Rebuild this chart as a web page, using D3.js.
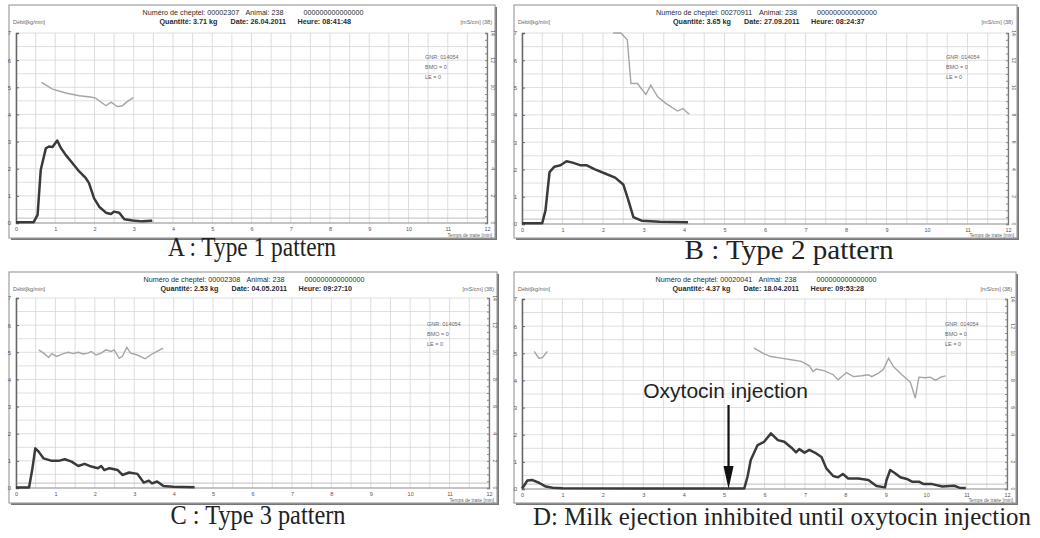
<!DOCTYPE html>
<html><head><meta charset="utf-8">
<script src="https://cdn.jsdelivr.net/npm/d3@7"></script>
<style>body{margin:0;background:#fff}</style>
</head><body><svg id="c" width="1040" height="538"></svg>
<script>
// ---------- DATA ----------
const captions = ["A : Type 1 pattern","B : Type 2 pattern","C : Type 3 pattern","D: Milk ejection inhibited until oxytocin injection"];
const herdNumbers = ["00002307","00270911","00002308","00020041"];
const quantities = ["3.71","3.65","2.53","4.37"];
const dates = ["26.04.2011","27.09.2011","04.05.2011","18.04.2011"];
const times = ["08:41:48","08:24:37","09:27:10","09:53:28"];
const xTicks = [0,1,2,3,4,5,6,7,8,9,10,11,12];
const yTicks = [0,1,2,3,4,5,6,7];
const rightTickLabels = ["0","2","4","6","8","10","12","14"];

// milk flow [min, kg/min]
const flowA = [[0,0.03],[0.45,0.03],[0.55,0.3],[0.63,1.95],[0.76,2.75],[0.84,2.82],[0.93,2.8],[1.05,3.04],[1.14,2.77],[1.27,2.5],[1.44,2.2],[1.61,1.9],[1.78,1.65],[1.86,1.47],[1.99,0.91],[2.12,0.6],[2.29,0.38],[2.42,0.33],[2.5,0.42],[2.63,0.38],[2.76,0.14],[2.97,0.09],[3.22,0.06],[3.44,0.08],[3.47,0.1]];
const flowB = [[0,0.03],[0.5,0.03],[0.58,0.5],[0.68,1.9],[0.8,2.1],[0.95,2.15],[1.1,2.3],[1.25,2.25],[1.45,2.15],[1.6,2.15],[1.8,2.0],[2.05,1.85],[2.3,1.7],[2.5,1.45],[2.62,0.9],[2.75,0.25],[2.95,0.12],[3.4,0.08],[4.1,0.06]];
const flowC = [[0,0.02],[0.33,0.02],[0.41,0.66],[0.49,1.46],[0.575,1.34],[0.7,1.09],[0.91,1.0],[1.08,1.0],[1.24,1.06],[1.41,0.97],[1.58,0.81],[1.74,0.89],[1.91,0.79],[2.08,0.73],[2.16,0.81],[2.24,0.66],[2.37,0.73],[2.58,0.66],[2.7,0.48],[2.87,0.57],[3.08,0.52],[3.24,0.2],[3.37,0.27],[3.45,0.17],[3.58,0.24],[3.74,0.07],[3.99,0.05],[4.24,0.04],[4.53,0.03]];
const flowD = [[0,0.02],[0.05,0.12],[0.13,0.31],[0.26,0.33],[0.42,0.23],[0.59,0.09],[0.76,0.05],[1.0,0.03],[3.0,0.02],[5.5,0.02],[5.58,0.45],[5.66,1.07],[5.83,1.62],[5.99,1.74],[6.16,2.05],[6.33,1.8],[6.49,1.74],[6.66,1.53],[6.78,1.35],[6.86,1.47],[6.99,1.34],[7.11,1.44],[7.28,1.31],[7.41,1.18],[7.53,0.76],[7.7,0.48],[7.82,0.43],[7.94,0.55],[8.07,0.39],[8.32,0.39],[8.57,0.33],[8.77,0.11],[8.98,0.06],[9.02,0.33],[9.11,0.7],[9.23,0.58],[9.36,0.43],[9.52,0.37],[9.65,0.27],[9.82,0.27],[9.94,0.18],[10.15,0.18],[10.4,0.09],[10.69,0.12],[10.82,0.05],[10.98,0.04]];

// conductivity trace, read in left-axis units
const condA = [[0.65,5.18],[0.93,4.93],[1.27,4.79],[1.61,4.69],[1.9,4.64],[2.03,4.6],[2.29,4.32],[2.42,4.45],[2.58,4.29],[2.71,4.32],[2.84,4.48],[2.99,4.62]];
const condB = [[2.25,7.0],[2.44,7.0],[2.6,6.75],[2.69,5.15],[2.85,5.15],[3.06,4.75],[3.18,5.09],[3.35,4.66],[3.55,4.42],[3.84,4.14],[3.97,4.23],[4.13,4.02]];
const condC = [[0.575,5.09],[0.7,4.97],[0.83,4.81],[0.91,4.95],[1.03,4.85],[1.2,4.95],[1.33,5.0],[1.45,4.95],[1.58,5.0],[1.7,4.94],[1.83,4.97],[1.91,5.03],[2.03,4.9],[2.16,4.97],[2.28,5.09],[2.41,5.03],[2.49,5.09],[2.62,4.78],[2.7,4.85],[2.81,5.18],[2.91,4.97],[3.08,4.9],[3.28,4.76],[3.41,4.9],[3.58,5.03],[3.73,5.15]];
const condD1 = [[0.3,5.07],[0.42,4.81],[0.51,4.85],[0.63,5.07]];
const condD2 = [[5.74,5.19],[5.99,4.98],[6.16,4.88],[6.41,4.82],[6.66,4.76],[6.91,4.7],[7.11,4.54],[7.2,4.33],[7.28,4.42],[7.49,4.35],[7.7,4.21],[7.82,4.02],[8.03,4.29],[8.2,4.14],[8.4,4.17],[8.57,4.21],[8.65,4.14],[8.82,4.27],[8.94,4.4],[9.07,4.82],[9.19,4.51],[9.4,4.21],[9.61,3.93],[9.73,3.35],[9.82,4.12],[9.98,4.1],[10.1,4.12],[10.23,4.0],[10.36,4.12],[10.48,4.17]];
const injectionTime = 5.11;

// ---------- LAYOUT ----------
const panels = [
  {box:[9,5,495,238], x0:16, x12:487, yZero:223, y7:33, flow:flowA, cond:[condA]},
  {box:[514,5,1017,238], x0:522, x12:1008, yZero:224, y7:33, flow:flowB, cond:[condB]},
  {box:[9,272,497,503], x0:16, x12:489, yZero:488, y7:298, flow:flowC, cond:[condC]},
  {box:[514,272,1016,503], x0:522, x12:1007, yZero:489, y7:299, flow:flowD, cond:[condD1,condD2]}
];
const captionPos = [[252,256],[789,259],[258,524],[782,525]];
const captionWidth = [168,209,175,498];
const captionSize = [27,27,27,25];

const svg = d3.select("#c");
const F = "'Liberation Sans', Arial, sans-serif";

panels.forEach((p,i)=>{
  const g = svg.append("g");
  const x = d3.scaleLinear().domain([0,12]).range([p.x0,p.x12]);
  const y = d3.scaleLinear().domain([0,7]).range([p.yZero,p.y7]);
  const [bx0,by0,bx1,by1] = p.box;
  // frame with shadow
  g.append("rect").attr("x",bx0+2).attr("y",by0+2).attr("width",bx1-bx0).attr("height",by1-by0).attr("fill","#777");
  g.append("rect").attr("x",bx0).attr("y",by0).attr("width",bx1-bx0).attr("height",by1-by0)
    .attr("fill","#fff").attr("stroke","#a0a0a0").attr("stroke-width",1.2);
  // grid
  const gx = d3.range(0,12.01,0.5), gy = d3.range(0,7.01,0.5);
  g.append("g").selectAll("line").data(gx).join("line")
    .attr("x1",d=>x(d)).attr("x2",d=>x(d)).attr("y1",y(0)).attr("y2",y(7))
    .attr("stroke","#d6d6d6").attr("stroke-width",0.8);
  g.append("g").selectAll("line").data(gy).join("line")
    .attr("x1",x(0)).attr("x2",x(12)).attr("y1",d=>y(d)).attr("y2",d=>y(d))
    .attr("stroke","#d6d6d6").attr("stroke-width",0.8);
  // threshold & zero line
  g.append("line").attr("x1",x(0)).attr("x2",x(12)).attr("y1",y(0.18)).attr("y2",y(0.18)).attr("stroke","#b0b0b0").attr("stroke-width",0.8);
  g.append("line").attr("x1",x(0)).attr("x2",x(12)).attr("y1",y(0)).attr("y2",y(0)).attr("stroke","#999").attr("stroke-width",1);
  // left axis
  const la = g.append("g").attr("transform",`translate(${x(0)},0)`)
    .call(d3.axisLeft(y).tickValues(yTicks).tickSize(-3).tickPadding(5).tickFormat(d3.format("d")));
  la.select(".domain").attr("stroke","#666").attr("stroke-width",1.5);
  la.selectAll(".tick line").attr("stroke","#666");
  la.selectAll("text").attr("font-family",F).attr("font-size",6).attr("fill","#555");
  // bottom labels
  const ba = g.append("g").attr("transform",`translate(0,${y(0)})`)
    .call(d3.axisBottom(x).tickValues(xTicks).tickSize(0).tickPadding(4).tickFormat(d3.format("d")));
  ba.select(".domain").remove();
  ba.selectAll("text").attr("font-family",F).attr("font-size",5.5).attr("fill","#555");
  // right axis
  const ra = g.append("g").attr("transform",`translate(${x(12)},0)`)
    .call(d3.axisRight(y).tickValues(d3.range(0,7.01,0.25)).tickSize(-2).tickFormat(""));
  ra.select(".domain").attr("stroke","#777").attr("stroke-width",1.3);
  ra.selectAll(".tick line").attr("stroke","#888");
  g.append("g").selectAll("text").data(rightTickLabels).join("text")
    .attr("transform",(d,k)=>`translate(${x(12)+4},${y(k)}) rotate(90)`)
    .attr("text-anchor","middle").attr("font-family",F).attr("font-size",5).attr("fill","#555").text(d=>d);
  // header
  const cx = (x(0)+x(12))/2;
  const t1 = by0+9.5, t2 = by0+18.5;
  const hdr = (tx,ty,s,bold)=>g.append("text").attr("x",tx).attr("y",ty).attr("font-family",F)
     .attr("font-size",7.2).attr("font-weight",bold?"bold":"normal").attr("fill","#2a2a2a").text(s);
  hdr(cx-109,t1,"Numéro de cheptel: "+herdNumbers[i],false);
  hdr(cx-6,t1,"Animal: 238",false);
  hdr(cx+52,t1,"000000000000000",false);
  hdr(cx-92,t2,"Quantité: "+quantities[i]+" kg",true);
  hdr(cx-21,t2,"Date: "+dates[i],true);
  hdr(cx+46,t2,"Heure: "+times[i],true);
  const small = (tx,ty,s,anchor,fs)=>g.append("text").attr("x",tx).attr("y",ty).attr("font-family",F)
     .attr("font-size",fs||5.5).attr("fill","#666").attr("text-anchor",anchor||"start").text(s);
  small(bx0+4,t2,"Débit[kg/min]");
  small(x(12)+5,t2,"[mS/cm] (38)","end");
  small(x(12)-62,by0+54,"GNR: 014054");
  small(x(12)-62,by0+64,"BMO = 0");
  small(x(12)-62,by0+74,"LE    = 0");
  small(bx1-3,by1-1.5,"Temps de traite [min]","end",4.8);
  // series
  const line = d3.line().x(d=>x(d[0])).y(d=>y(d[1])).curve(d3.curveLinear);
  p.cond.forEach(c=>g.append("path").attr("d",line(c)).attr("fill","none").attr("stroke","#a5a5a5").attr("stroke-width",1.4));
  g.append("path").attr("d",line(p.flow)).attr("fill","none").attr("stroke","#3a3a3a").attr("stroke-width",2.5).attr("stroke-linejoin","round");
  // caption
  svg.append("text").attr("x",captionPos[i][0]).attr("y",captionPos[i][1]).attr("text-anchor","middle")
    .attr("font-family","'Liberation Serif','Times New Roman',serif").attr("font-size",captionSize[i]).attr("fill","#222")
    .attr("textLength",captionWidth[i]).attr("lengthAdjust","spacingAndGlyphs").text(captions[i]);
  if(i===3){
    const ax = x(injectionTime);
    g.append("line").attr("x1",ax).attr("x2",ax).attr("y1",405).attr("y2",472).attr("stroke","#111").attr("stroke-width",2.2);
    g.append("path").attr("d",`M${ax-5},466 L${ax+5},466 L${ax},${y(0)} Z`).attr("fill","#111");
    g.append("text").attr("x",ax-3).attr("y",398).attr("text-anchor","middle").attr("font-family",F)
      .attr("font-size",21).attr("fill","#222").text("Oxytocin injection");
  }
});
</script></body></html>
